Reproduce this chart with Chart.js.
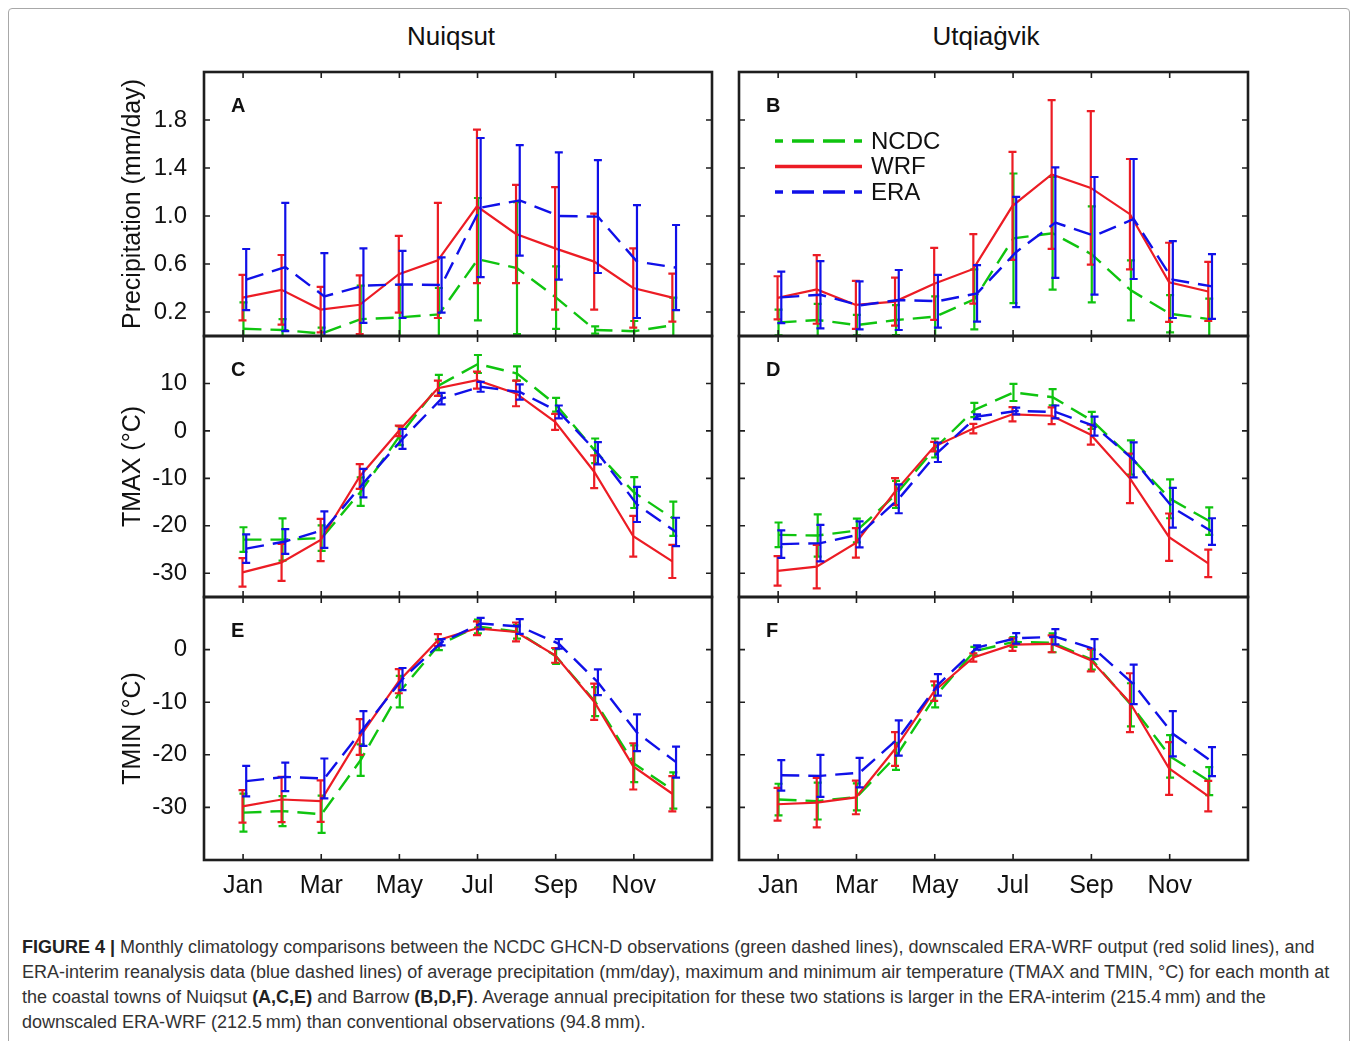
<!DOCTYPE html>
<html>
<head>
<meta charset="utf-8">
<title>Figure 4</title>
<script src="https://cdn.jsdelivr.net/npm/chart.js@4.4.1/dist/chart.umd.min.js"></script>
<style>
    html, body { margin: 0; padding: 0; background: #fff; }
    body {
        width: 1358px; height: 1041px; position: relative; overflow: hidden;
        font-family: "Liberation Sans", Arial, Helvetica, sans-serif;
    }
    .frame {
        position: absolute; left: 8px; top: 8px; width: 1342px; height: 1045px;
        border: 1.5px solid #a8a8a8; border-radius: 4px; box-sizing: border-box;
    }
    .panel { position: absolute; }
    .col-title {
        position: absolute; top: 21px; font-size: 26px; line-height: 30px;
        color: #111; transform: translateX(-50%); white-space: nowrap;
    }
    .caption {
        position: absolute; left: 22px; top: 935px; font-size: 18px;
        line-height: 25px; color: #333; white-space: nowrap;
    }
    .caption b { color: #222; }
</style>
</head>
<body>
<div class="frame"></div>
<div class="col-title" style="left:451px">Nuiqsut</div>
<div class="col-title" style="left:986px">Utqiaġvik</div>

<div class="panel" id="panelA"><canvas></canvas></div>
<div class="panel" id="panelB"><canvas></canvas></div>
<div class="panel" id="panelC"><canvas></canvas></div>
<div class="panel" id="panelD"><canvas></canvas></div>
<div class="panel" id="panelE"><canvas></canvas></div>
<div class="panel" id="panelF"><canvas></canvas></div>

<div class="caption"><b>FIGURE 4 |</b> Monthly climatology comparisons between the NCDC GHCN-D observations (green dashed lines), downscaled ERA-WRF output (red solid lines), and<br>ERA-interim reanalysis data (blue dashed lines) of average precipitation (mm/day), maximum and minimum air temperature (TMAX and TMIN, °C) for each month at<br>the coastal towns of Nuiqsut <b>(A,C,E)</b> and Barrow <b>(B,D,F)</b>. Average annual precipitation for these two stations is larger in the ERA-interim (215.4&#8201;mm) and the<br>downscaled ERA-WRF (212.5&#8201;mm) than conventional observations (94.8&#8201;mm).</div>

<script>
// ---- data (monthly mean and +/- spread) ----
const MONTH_NAMES = ['Jan', 'Feb', 'Mar', 'Apr', 'May', 'Jun', 'Jul', 'Aug', 'Sep', 'Oct', 'Nov', 'Dec'];
const MONTH_TICKS = [1, 3, 5, 7, 9, 11];
const SERIES_NAMES = ['NCDC', 'WRF', 'ERA'];

const PRCP_TICKS = [0.2, 0.6, 1.0, 1.4, 1.8];
const PRCP_TICK_LABELS = ['0.2', '0.6', '1.0', '1.4', '1.8'];
const TMAX_TICKS = [-30, -20, -10, 0, 10];
const TMAX_TICK_LABELS = ['-30', '-20', '-10', '0', '10'];
const TMIN_TICKS = [-30, -20, -10, 0];
const TMIN_TICK_LABELS = ['-30', '-20', '-10', '0'];

// A: Nuiqsut precipitation (mm/day)
const NUI_PRCP_NCDC = [0.06, 0.05, 0.02, 0.14, 0.155, 0.18, 0.64, 0.565, 0.32, 0.05, 0.04, 0.09];
const NUI_PRCP_NCDC_SD = [0.22, 0.09, 0.05, 0.28, 0.27, 0.22, 0.51, 0.55, 0.26, 0.03, 0.085, 0.23];
const NUI_PRCP_WRF = [0.32, 0.385, 0.22, 0.26, 0.515, 0.63, 1.08, 0.85, 0.73, 0.62, 0.40, 0.32];
const NUI_PRCP_WRF_SD = [0.19, 0.29, 0.19, 0.245, 0.32, 0.48, 0.64, 0.41, 0.51, 0.40, 0.33, 0.20];
const NUI_PRCP_ERA = [0.47, 0.575, 0.33, 0.42, 0.43, 0.425, 1.07, 1.13, 1.0, 0.995, 0.62, 0.57];
const NUI_PRCP_ERA_SD = [0.255, 0.535, 0.36, 0.31, 0.28, 0.23, 0.58, 0.46, 0.53, 0.47, 0.47, 0.355];

// B: Utqiagvik precipitation (mm/day)
const UTQ_PRCP_NCDC = [0.113, 0.133, 0.091, 0.133, 0.161, 0.306, 0.814, 0.856, 0.68, 0.38, 0.185, 0.141];
const UTQ_PRCP_NCDC_SD = [0.107, 0.134, 0.085, 0.125, 0.17, 0.25, 0.54, 0.47, 0.40, 0.25, 0.155, 0.17];
const UTQ_PRCP_WRF = [0.318, 0.388, 0.259, 0.287, 0.435, 0.559, 1.085, 1.346, 1.234, 1.015, 0.447, 0.371];
const UTQ_PRCP_WRF_SD = [0.18, 0.286, 0.2, 0.2, 0.3, 0.29, 0.45, 0.62, 0.64, 0.46, 0.33, 0.246];
const UTQ_PRCP_ERA = [0.322, 0.344, 0.255, 0.30, 0.29, 0.355, 0.70, 0.945, 0.835, 0.975, 0.47, 0.413];
const UTQ_PRCP_ERA_SD = [0.214, 0.28, 0.2, 0.25, 0.22, 0.235, 0.46, 0.46, 0.49, 0.50, 0.32, 0.27];

// C: Nuiqsut TMAX (°C)
const NUI_TMAX_NCDC = [-22.9, -22.9, -22.6, -12.8, -1.0, 9.6, 14.1, 12.1, 5.5, -4.2, -13.0, -18.5];
const NUI_TMAX_NCDC_SD = [2.6, 4.45, 2.7, 3.0, 2.0, 2.2, 1.9, 1.5, 1.45, 2.6, 3.25, 3.6];
const NUI_TMAX_WRF = [-29.8, -27.7, -23.0, -9.6, 0.0, 9.0, 10.7, 7.9, 1.9, -8.6, -22.2, -27.5];
const NUI_TMAX_WRF_SD = [3.0, 3.9, 4.45, 2.6, 1.1, 1.6, 1.8, 2.7, 1.7, 3.45, 4.3, 3.5];
const NUI_TMAX_ERA = [-24.8, -23.3, -20.8, -11.0, -1.7, 6.8, 9.3, 8.2, 4.0, -4.7, -15.5, -21.3];
const NUI_TMAX_ERA_SD = [3.0, 2.6, 3.85, 3.0, 2.1, 1.2, 1.05, 1.6, 1.35, 2.35, 3.7, 3.0];

// D: Utqiagvik TMAX (°C)
const UTQ_TMAX_NCDC = [-21.9, -22.05, -21.0, -13.4, -3.6, 4.4, 8.1, 7.1, 2.2, -5.6, -14.3, -19.0];
const UTQ_TMAX_NCDC_SD = [2.6, 4.45, 2.5, 2.85, 2.0, 1.5, 1.8, 1.7, 1.8, 3.6, 4.1, 2.9];
const UTQ_TMAX_WRF = [-29.5, -28.6, -23.6, -12.8, -3.3, 0.5, 3.5, 3.2, -0.8, -10.0, -22.4, -27.9];
const UTQ_TMAX_WRF_SD = [3.1, 4.6, 3.1, 2.85, 1.0, 1.0, 1.5, 1.75, 2.1, 5.2, 5.0, 2.9];
const UTQ_TMAX_ERA = [-23.85, -23.65, -21.8, -14.3, -4.5, 3.0, 4.2, 4.0, 1.0, -6.1, -16.2, -21.2];
const UTQ_TMAX_ERA_SD = [2.9, 3.85, 2.75, 3.05, 2.05, 0.5, 0.7, 1.35, 2.0, 3.7, 4.2, 2.8];

// E: Nuiqsut TMIN (°C)
const NUI_TMIN_NCDC = [-31.0, -30.7, -31.3, -21.0, -8.0, 0.9, 4.4, 3.4, -1.3, -9.9, -21.7, -26.8];
const NUI_TMIN_NCDC_SD = [3.6, 2.85, 3.55, 3.0, 3.0, 1.0, 1.3, 1.3, 1.4, 2.75, 3.5, 3.45];
const NUI_TMIN_WRF = [-29.8, -28.5, -28.8, -16.6, -6.0, 1.8, 4.05, 3.35, -1.1, -9.9, -22.2, -27.4];
const NUI_TMIN_WRF_SD = [3.1, 4.3, 3.95, 3.4, 2.3, 1.15, 1.3, 1.8, 1.4, 3.45, 4.4, 3.35];
const NUI_TMIN_ERA = [-25.0, -24.2, -24.5, -15.0, -5.6, 1.4, 4.95, 4.4, 1.1, -6.2, -15.8, -21.4];
const NUI_TMIN_ERA_SD = [2.9, 2.7, 3.8, 3.3, 2.1, 0.6, 1.1, 1.4, 0.9, 2.45, 3.5, 2.95];

// F: Utqiagvik TMIN (°C)
const UTQ_TMIN_NCDC = [-28.5, -28.8, -28.0, -20.3, -8.9, -0.3, 1.45, 1.3, -1.9, -10.5, -20.3, -25.0];
const UTQ_TMIN_NCDC_SD = [3.0, 3.5, 2.55, 2.55, 2.1, 0.8, 0.95, 1.8, 1.9, 4.1, 4.05, 2.65];
const UTQ_TMIN_WRF = [-29.4, -29.1, -28.1, -18.9, -7.9, -1.5, 0.95, 1.1, -2.0, -10.1, -22.6, -27.85];
const UTQ_TMIN_WRF_SD = [3.1, 4.7, 3.2, 3.2, 1.85, 0.8, 1.2, 1.6, 2.15, 5.6, 5.0, 2.9];
const UTQ_TMIN_ERA = [-23.9, -24.0, -23.4, -16.8, -6.7, 0.4, 2.15, 2.45, 0.1, -6.6, -16.0, -21.3];
const UTQ_TMIN_ERA_SD = [2.9, 4.0, 2.8, 3.35, 2.05, 0.4, 1.0, 1.45, 1.9, 3.75, 4.3, 2.75];

(function () {
    'use strict';

    const FONT = '"Liberation Sans", Arial, Helvetica, sans-serif';
    const COLORS = { NCDC: '#0fc40f', WRF: '#ec1c24', ERA: '#1010e8' };
    const DASH = [18, 9];
    // small horizontal nudge (in months) so the three error bars don't sit exactly on top of each other
    const X_NUDGE = { NCDC: 0.01, WRF: -0.015, ERA: 0.08 };
    const CAP = 4;
    const TICK_LEN = 6;

    // plot boxes in page pixels
    const COL_LEFT = [204, 739];
    const COL_RIGHT = [712, 1248];
    const ROW_TOP = [72, 336, 597];
    const ROW_BOTTOM = [336, 597, 860];
    const Y_AXIS_W = 92, PAD_L = 12, PAD_R = 8, PAD_T = 16, PAD_B = 6;

    /** error bars drawn right after each line so layering follows dataset order */
    const errorBars = {
        id: 'errorBars',
        afterDatasetDraw(chart, args) {
            const ds = chart.data.datasets[args.index];
            if (!ds.spread) return;
            const y = chart.scales.y;
            const a = chart.chartArea;
            const ctx = chart.ctx;
            ctx.save();
            ctx.beginPath();
            ctx.rect(a.left, a.top, a.right - a.left, a.bottom - a.top);
            ctx.clip();
            ctx.strokeStyle = ds.borderColor;
            ctx.lineWidth = 2.2;
            ctx.setLineDash([]);
            args.meta.data.forEach((pt, i) => {
                const v = ds.data[i].y;
                const hi = y.getPixelForValue(v + ds.spread[i]);
                const lo = y.getPixelForValue(v - ds.spread[i]);
                ctx.beginPath();
                ctx.moveTo(pt.x, hi); ctx.lineTo(pt.x, lo);
                ctx.moveTo(pt.x - CAP, hi); ctx.lineTo(pt.x + CAP, hi);
                ctx.moveTo(pt.x - CAP, lo); ctx.lineTo(pt.x + CAP, lo);
                ctx.stroke();
            });
            ctx.restore();
        }
    };

    /** box with inward ticks on all four sides + panel letter */
    const panelFrame = {
        id: 'panelFrame',
        afterDraw(chart, args, opts) {
            const { ctx, chartArea: a, scales: { x, y } } = chart;
            ctx.save();
            ctx.strokeStyle = '#1e1e1e';
            ctx.lineWidth = 1.6;
            ctx.beginPath();
            x.ticks.forEach(t => {
                const px = x.getPixelForValue(t.value);
                ctx.moveTo(px, a.top); ctx.lineTo(px, a.top + TICK_LEN);
                ctx.moveTo(px, a.bottom); ctx.lineTo(px, a.bottom - TICK_LEN);
            });
            y.ticks.forEach(t => {
                const py = y.getPixelForValue(t.value);
                ctx.moveTo(a.left, py); ctx.lineTo(a.left + TICK_LEN, py);
                ctx.moveTo(a.right, py); ctx.lineTo(a.right - TICK_LEN, py);
            });
            ctx.stroke();
            ctx.lineWidth = 2.6;
            ctx.strokeRect(a.left, a.top, a.right - a.left, a.bottom - a.top);

            ctx.fillStyle = '#111';
            ctx.font = 'bold 20px ' + FONT;
            ctx.textBaseline = 'middle';
            ctx.fillText(opts.letter, a.left + 27, a.top + 34);
            ctx.restore();
        }
    };

    /** legend inside panel B */
    const seriesKey = {
        id: 'seriesKey',
        afterDraw(chart, args, opts) {
            if (!opts.show) return;
            const { ctx, chartArea: a } = chart;
            ctx.save();
            chart.data.datasets.forEach((ds, i) => {
                const yy = a.top + 69 + i * 25.5;
                ctx.strokeStyle = ds.borderColor;
                ctx.lineWidth = 3.5;
                ctx.setLineDash(ds.borderDash.length ? [22, 9] : []);
                ctx.lineDashOffset = 14;
                ctx.beginPath();
                ctx.moveTo(a.left + 36, yy);
                ctx.lineTo(a.left + 123, yy);
                ctx.stroke();
                ctx.setLineDash([]);
                ctx.fillStyle = '#111';
                ctx.font = '24px ' + FONT;
                ctx.textBaseline = 'middle';
                ctx.fillText(ds.label, a.left + 132, yy + 1);
            });
            ctx.restore();
        }
    };

    function series(name, values, spread, order) {
        return {
            label: name,
            data: values.map((v, i) => ({ x: i + 1 + X_NUDGE[name], y: v })),
            spread,
            borderColor: COLORS[name],
            borderWidth: name === 'WRF' ? 2.2 : 2.4,
            borderDash: name === 'WRF' ? [] : DASH,
            pointRadius: 0,
            tension: 0,
            fill: false,
            order
        };
    }

    function makePanel(p) {
        const L = COL_LEFT[p.col], R = COL_RIGHT[p.col];
        const T = ROW_TOP[p.row], B = ROW_BOTTOM[p.row];
        const xAxisH = p.row === 2 ? 50 : 10;
        const wrap = document.getElementById(p.id);
        wrap.style.left = (L - Y_AXIS_W - PAD_L) + 'px';
        wrap.style.top = (T - PAD_T) + 'px';
        wrap.style.width = (R + PAD_R - (L - Y_AXIS_W - PAD_L)) + 'px';
        wrap.style.height = (PAD_T + (B - T) + xAxisH + PAD_B) + 'px';
        const showY = p.col === 0;

        return new Chart(wrap.querySelector('canvas'), {
            type: 'line',
            data: {
                datasets: [
                    series('NCDC', p.data[0], p.data[1], 3),
                    series('WRF', p.data[2], p.data[3], 2),
                    series('ERA', p.data[4], p.data[5], 1)
                ]
            },
            options: {
                responsive: true,
                maintainAspectRatio: false,
                animation: false,
                layout: { padding: { left: PAD_L, right: PAD_R, top: PAD_T, bottom: PAD_B } },
                plugins: {
                    legend: { display: false },
                    tooltip: { enabled: false },
                    panelFrame: { letter: p.letter },
                    seriesKey: { show: !!p.legend }
                },
                scales: {
                    x: {
                        type: 'linear',
                        min: 0,
                        max: 13,
                        grid: { display: false },
                        border: { display: false },
                        afterBuildTicks: s => { s.ticks = MONTH_TICKS.map(v => ({ value: v })); },
                        afterFit: s => {
                            s.height = xAxisH;
                            s.paddingLeft = 0; s.paddingRight = 0;
                        },
                        ticks: {
                            display: p.row === 2,
                            autoSkip: false,
                            maxRotation: 0,
                            padding: 3,
                            color: '#111',
                            font: { size: 25, family: FONT },
                            callback: (v, i) => MONTH_NAMES[MONTH_TICKS[i] - 1]
                        }
                    },
                    y: {
                        type: 'linear',
                        min: p.yMin,
                        max: p.yMax,
                        grid: { display: false },
                        border: { display: false },
                        afterBuildTicks: s => { s.ticks = p.ticks.map(v => ({ value: v })); },
                        afterFit: s => {
                            s.width = Y_AXIS_W;
                            // labels sit well inside the range, so no extra room above/below
                            s.paddingTop = 0; s.paddingBottom = 0;
                        },
                        ticks: {
                            display: showY,
                            padding: 9,
                            color: '#111',
                            font: { size: 24, family: FONT },
                            callback: (v, i) => p.tickLabels[i]
                        },
                        title: {
                            display: showY,
                            text: p.yTitle,
                            color: '#111',
                            padding: { top: 6, bottom: 4 },
                            font: { size: 25, family: FONT }
                        }
                    }
                }
            },
            plugins: [errorBars, panelFrame, seriesKey]
        });
    }

    const PANELS = [
        { id: 'panelA', letter: 'A', col: 0, row: 0, yMin: 0, yMax: 2.2, ticks: PRCP_TICKS, tickLabels: PRCP_TICK_LABELS,
          yTitle: 'Precipitation (mm/day)',
          data: [NUI_PRCP_NCDC, NUI_PRCP_NCDC_SD, NUI_PRCP_WRF, NUI_PRCP_WRF_SD, NUI_PRCP_ERA, NUI_PRCP_ERA_SD] },
        { id: 'panelB', letter: 'B', col: 1, row: 0, yMin: 0, yMax: 2.2, ticks: PRCP_TICKS, tickLabels: PRCP_TICK_LABELS,
          legend: true,
          data: [UTQ_PRCP_NCDC, UTQ_PRCP_NCDC_SD, UTQ_PRCP_WRF, UTQ_PRCP_WRF_SD, UTQ_PRCP_ERA, UTQ_PRCP_ERA_SD] },
        { id: 'panelC', letter: 'C', col: 0, row: 1, yMin: -35, yMax: 20, ticks: TMAX_TICKS, tickLabels: TMAX_TICK_LABELS,
          yTitle: 'TMAX (°C)',
          data: [NUI_TMAX_NCDC, NUI_TMAX_NCDC_SD, NUI_TMAX_WRF, NUI_TMAX_WRF_SD, NUI_TMAX_ERA, NUI_TMAX_ERA_SD] },
        { id: 'panelD', letter: 'D', col: 1, row: 1, yMin: -35, yMax: 20, ticks: TMAX_TICKS, tickLabels: TMAX_TICK_LABELS,
          data: [UTQ_TMAX_NCDC, UTQ_TMAX_NCDC_SD, UTQ_TMAX_WRF, UTQ_TMAX_WRF_SD, UTQ_TMAX_ERA, UTQ_TMAX_ERA_SD] },
        { id: 'panelE', letter: 'E', col: 0, row: 2, yMin: -40, yMax: 10, ticks: TMIN_TICKS, tickLabels: TMIN_TICK_LABELS,
          yTitle: 'TMIN (°C)',
          data: [NUI_TMIN_NCDC, NUI_TMIN_NCDC_SD, NUI_TMIN_WRF, NUI_TMIN_WRF_SD, NUI_TMIN_ERA, NUI_TMIN_ERA_SD] },
        { id: 'panelF', letter: 'F', col: 1, row: 2, yMin: -40, yMax: 10, ticks: TMIN_TICKS, tickLabels: TMIN_TICK_LABELS,
          data: [UTQ_TMIN_NCDC, UTQ_TMIN_NCDC_SD, UTQ_TMIN_WRF, UTQ_TMIN_WRF_SD, UTQ_TMIN_ERA, UTQ_TMIN_ERA_SD] }
    ];

    PANELS.forEach(makePanel);
})();
</script>
</body>
</html>
